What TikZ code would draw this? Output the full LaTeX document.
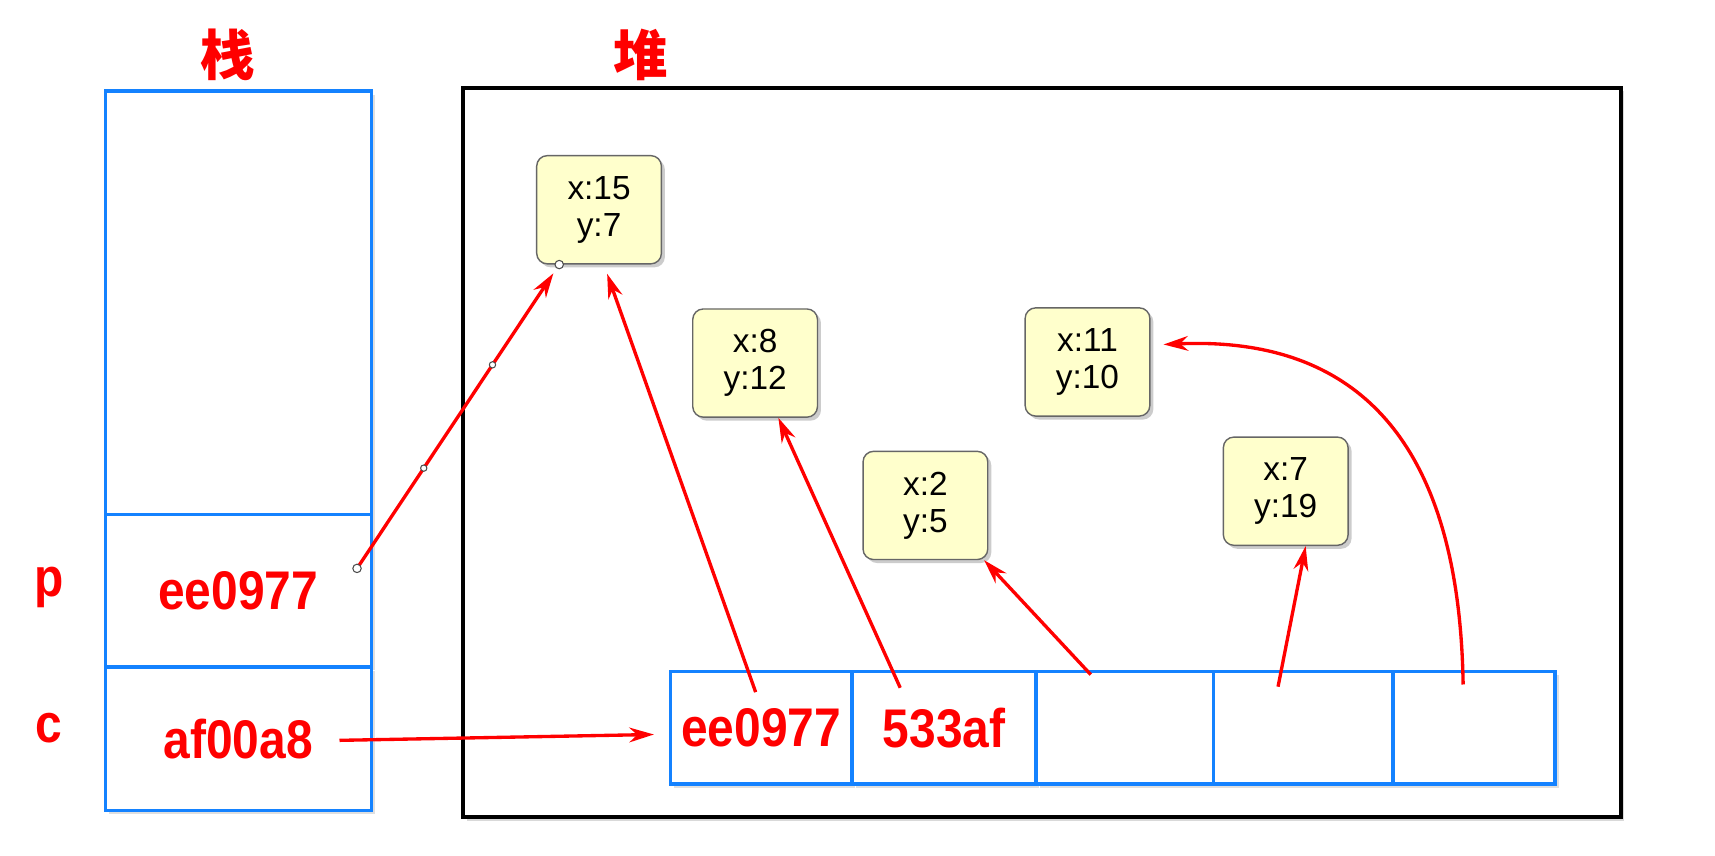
\documentclass[tikz,border=0pt]{standalone}
\usepackage{fontspec}
\setmainfont{Liberation Sans}
\newfontfamily\cjk{Noto Sans CJK SC}
\newfontfamily\redfont{Liberation Sans}[FakeStretch=0.88]
\usetikzlibrary{arrows.meta, shadows}
\definecolor{cellblue}{RGB}{20,130,255}
\definecolor{objyellow}{RGB}{255,255,204}
\tikzstyle{title} = [text=red, font=\cjk\bfseries\fontsize{15.5}{18}\selectfont]
\tikzstyle{addr} = [text=red, font=\redfont\bfseries\fontsize{15.5}{18}\selectfont]
\tikzstyle{slot} = [draw=cellblue, line width=0.95pt, fill=white, minimum width=75.7pt, inner sep=0pt, addr, drop shadow={shadow xshift=1pt, shadow yshift=-1pt, opacity=0.25}]
\tikzstyle{obj} = [draw=gray!80!black, fill=objyellow, rounded corners=3pt, minimum width=35.5pt, minimum height=30.8pt, inner sep=0pt, align=center, font=\fontsize{9.5}{10.5}\selectfont, drop shadow={shadow xshift=1pt, shadow yshift=-1pt, opacity=0.4}]
\tikzstyle{ref} = [draw=red, line width=0.95pt, -{Stealth[length=7pt, width=4.2pt]}]
\tikzstyle{knob} = [circle, draw=black!70, fill=white, line width=0.3pt, inner sep=0pt, minimum size=2.4pt]

\begin{document}
\begin{tikzpicture}[x=0.01095cm, y=-0.01095cm]
\useasboundingbox (0,0) rectangle (1566,781);
% titles
\node[title] (stacktitle) at (208,50) {栈};
\node[title] (heaptitle) at (585,50) {堆};
% stack
\node[slot, minimum height=120.5pt] (free) at (217.5,276.5) {};
\node[slot, minimum height=43.3pt] (pslot) at (217.5,539.5) {ee0977};
\node[slot, minimum height=40.8pt] (cslot) at (217.5,674.5) {af00a8};
\node[addr, anchor=base] (pname) at (45,545) {p};
\node[addr, anchor=base] (cname) at (45,678) {c};
% heap
\draw[line width=1.1pt, fill=white, drop shadow={shadow xshift=1pt, shadow yshift=-1pt, opacity=0.3}] (423,80) rectangle (1480,746);
\node[obj] (A) at (547,191.5) {x:15\\y:7};
\node[obj] (B) at (689.5,331.5) {x:8\\y:12};
\node[obj] (C) at (993,330.5) {x:11\\y:10};
\node[obj] (D) at (845,461.5) {x:2\\y:5};
\node[obj] (E) at (1174,448.5) {x:7\\y:19};
% array in the heap
\node[slot, minimum width=51.7pt, minimum height=32.1pt] (c1) at (695,664.5) {ee0977};
\node[slot, minimum width=52.3pt, minimum height=32.1pt] (c2) at (862,664.5) {533af};
\node[slot, minimum width=50.5pt, minimum height=32.1pt] (c3) at (1027,664.5) {};
\node[slot, minimum width=51.1pt, minimum height=32.1pt] (c4) at (1190,664.5) {};
\node[slot, minimum width=46.1pt, minimum height=32.1pt] (c5) at (1346,664.5) {};
% references
\coordinate (pout) at (326,519);
\coordinate (cout) at (310,676);
\coordinate (s1) at (690,632);
\coordinate (s2) at (822,628);
\coordinate (s3) at (996,616);
\coordinate (s4) at (1167,627);
\coordinate (s5) at (1336,625);
\draw[ref, shorten >=3pt] (pout) -- (A.-126)
    node[knob, pos=0] (k1) {} node[knob, minimum size=1.8pt, pos=0.33] (k2) {}
    node[knob, minimum size=1.8pt, pos=0.67] (k3) {} node[knob, pos=1] (k4) {};
\draw[ref, shorten >=2.8pt] (s1) -- (A.-85);
\draw[ref] (s2) -- (B.-67.5);
\draw[ref] (s3) -- (D.-43);
\draw[ref] (s4) -- (E.-70);
\draw[ref, shorten >=3.7pt] (s5) .. controls (1332,370) and (1210,308) .. (C.15);
\draw[ref, shorten >=4.2pt] (cout) -- (c1.184);
\end{tikzpicture}
\end{document}
